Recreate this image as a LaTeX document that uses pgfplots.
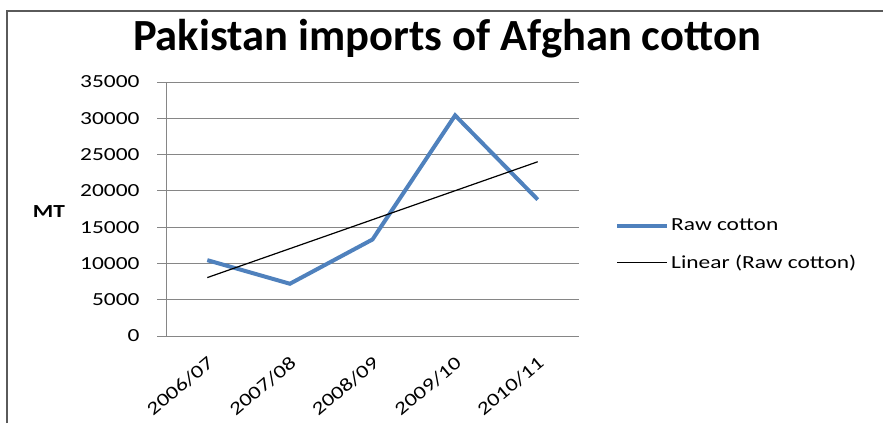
\documentclass[border=0pt]{standalone}
\usepackage{fontspec}
\usepackage{graphicx}
\usepackage{pgfplots}
\usepackage{pgfplotstable}
\pgfplotsset{compat=1.18}
\setmainfont{Carlito}
\definecolor{rawblue}{RGB}{79,129,189}
\definecolor{gridgray}{RGB}{134,134,134}
\definecolor{framegray}{RGB}{90,90,90}
% Carlito set a little wider, as the chart's small labels are
\newcommand{\wider}[1]{\scalebox{1.27}[1]{#1}}

\pgfplotstableread{
x y
0 10450
1 7200
2 13300
3 30400
4 18800
}\cottondata

\begin{document}
\begin{tikzpicture}[x=1bp,y=1bp]
\path[use as bounding box] (0,0) rectangle (883,423);
% chart frame
\draw[framegray, line width=1.5bp] (7,0) -- (7,412) -- (883,412);
\node[font=\bfseries\fontsize{44.7}{48}\selectfont] at (447,384) {Pakistan imports of Afghan cotton};
\node[font=\bfseries\fontsize{18.5}{20}\selectfont] at (49,211) {\wider{MT}};
\begin{axis}[
  at={(166bp,87bp)}, anchor=south west,
  scale only axis, width=413bp, height=254bp,
  xmin=-0.5, xmax=4.5, ymin=0, ymax=35000,
  xtick={0,1,2,3,4},
  xticklabels={\wider{2006/07},\wider{2007/08},\wider{2008/09},\wider{2009/10},\wider{2010/11}},
  minor xtick={-0.5,0.5,1.5,2.5,3.5,4.5},
  ytick={0,5000,...,35000},
  yticklabel={\wider{\pgfmathprintnumber{\tick}}},
  axis x line*=bottom, axis y line*=left,
  axis line style={gridgray, line width=1bp, -},
  major tick length=9bp, minor tick length=6bp,
  tick align=outside,
  xtick style={draw=none},
  minor x tick style={gridgray, line width=1bp},
  ytick style={gridgray, line width=1bp},
  ymajorgrids, grid style={gridgray, line width=1bp},
  /pgf/number format/assume math mode=true,
  /pgf/number format/1000 sep={},
  scaled y ticks=false,
  yticklabel style={font=\fontsize{18.5}{20}\selectfont, text=black, xshift=-14bp},
  xticklabel style={font=\fontsize{18.5}{20}\selectfont, text=black, rotate=40, anchor=north east, inner sep=1bp, yshift=-6bp, xshift=-6bp},
  legend style={draw=none, fill=none, at={(1.08,0.36)}, anchor=west,
    font=\fontsize{18.5}{20}\selectfont, row sep=19bp},
  legend cell align=left,
  legend image code/.code={\draw[#1] (0bp,0bp) -- (50bp,0bp);},
  clip=false,
]
\addplot[rawblue, line width=4bp, line join=miter] table[x=x, y=y] {\cottondata};
\addlegendentry{\wider{Raw cotton}}
\addplot[black, line width=1.2bp] table[x=x, y={create col/linear regression={y=y}}] {\cottondata};
\addlegendentry{\wider{Linear (Raw cotton)}}
\end{axis}
\end{tikzpicture}
\end{document}
